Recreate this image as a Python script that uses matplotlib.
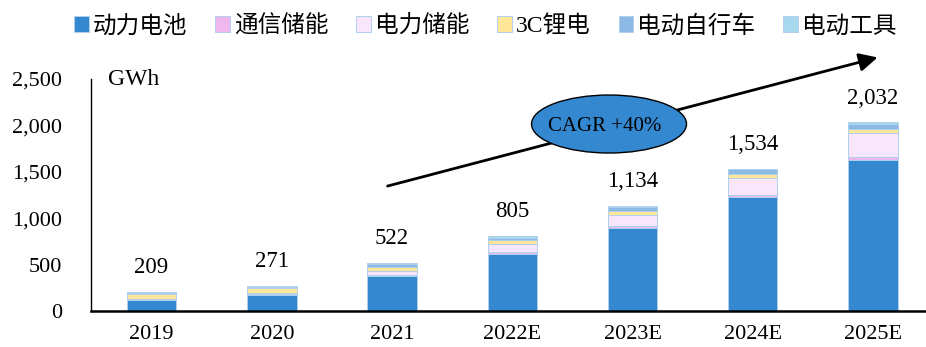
import matplotlib.pyplot as plt
from matplotlib.patches import Ellipse
import numpy as np

plt.rcParams['font.family'] = ['Liberation Serif', 'Noto Sans CJK SC']

years = ['2019', '2020', '2021', '2022E', '2023E', '2024E', '2025E']
totals = [209, 271, 522, 805, 1134, 1534, 2032]

# GWh by application
power_battery = [118, 169, 374, 614, 896, 1230, 1627]
telecom_storage = [5, 10, 12, 25, 22, 18, 36]
grid_storage = [5, 10, 40, 79, 115, 187, 251]
consumer_3c = [55, 54, 50, 43, 43, 40, 43]
ebike = [16, 18, 34, 25, 40, 50, 57]
power_tools = [10, 10, 12, 19, 18, 9, 18]

series = [
    ('动力电池', power_battery, '#3388D0'),
    ('通信储能', telecom_storage, '#EEB8EE'),
    ('电力储能', grid_storage, '#FAE6FA'),
    ('3C锂电', consumer_3c, '#FFE699'),
    ('电动自行车', ebike, '#8DBAE4'),
    ('电动工具', power_tools, '#A8D8EE'),
]

fig = plt.figure(figsize=(9.26, 3.47), dpi=100)
ax = fig.add_axes([0.0988, 0.1037, 0.9012, 0.6686])

x = np.arange(len(years))
bottom = np.zeros(len(years))
for name, vals, color in series:
    ax.bar(x, vals, 0.41, bottom=bottom, color=color, edgecolor='#B0D0EE',
           linewidth=0.7, label=name)
    bottom += np.array(vals)

for xi, t in zip(x, totals):
    ax.annotate(f'{t:,}', (xi, t), xytext=(0, 10), textcoords='offset points',
                ha='center', va='bottom', fontsize=16.5)

ax.set_xlim(-0.5, 6.44)
ax.set_ylim(0, 2500)
ax.set_yticks([0, 500, 1000, 1500, 2000, 2500])
ax.set_yticklabels([f'{v:,}' for v in [0, 500, 1000, 1500, 2000, 2500]])
ax.set_xticks(x)
ax.set_xticklabels(years)
ax.tick_params(axis='y', length=0, pad=21, labelsize=16)
ax.tick_params(axis='x', length=0, pad=10, labelsize=16)
for s in ['top', 'right']:
    ax.spines[s].set_visible(False)
ax.spines['left'].set_linewidth(1.0)
ax.spines['bottom'].set_linewidth(1.8)

ax.text(-0.36, 2500, 'GWh', fontsize=17, va='center', ha='left')

# growth arrow with CAGR bubble
ax.annotate('', xy=(6.06, 2740), xytext=(1.94, 1339),
            arrowprops=dict(arrowstyle='-|>,head_length=1.1,head_width=0.55',
                            color='black', lw=2),
            annotation_clip=False, zorder=3)
ell = Ellipse((3.804, 2015), 1.289, 625, facecolor='#3388D0',
              edgecolor='black', linewidth=1.0, zorder=4, clip_on=False)
ax.add_patch(ell)
ax.text(3.77, 1985, 'CAGR +40%', fontsize=15, ha='center', va='center', zorder=5)

ax.legend(loc='center', ncol=6, frameon=False, fontsize=17, handlelength=0.62,
          handleheight=0.62, handletextpad=0.15, columnspacing=1.2, borderaxespad=0,
          bbox_to_anchor=(0.524, 0.925), bbox_transform=fig.transFigure)

fig.savefig('out.png', dpi=100)
